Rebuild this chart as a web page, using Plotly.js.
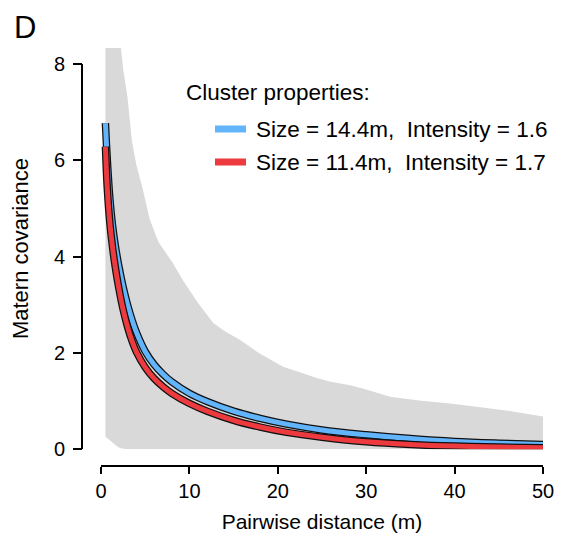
<!DOCTYPE html>
<html>
<head>
<meta charset="utf-8">
<script src="https://cdn.plot.ly/plotly-3.0.1.min.js"></script>
<style>
html,body{margin:0;padding:0;background:#fff;}
#chart{width:564px;height:537px;}
</style>
</head>
<body>
<div id="chart"></div>
<script>
// ---- data ----
const distX = [0.5, 0.7, 1, 1.3, 1.6, 2, 2.5, 3, 3.5, 4, 5, 6, 7, 8, 10, 12, 15, 18, 21, 25, 30, 35, 40, 45, 50];
const blueCov = [6.77, 6.05, 5.21, 4.65, 4.25, 3.82, 3.37, 3.0, 2.69, 2.43, 2.03, 1.76, 1.56, 1.4, 1.16, 0.99, 0.79, 0.64, 0.52, 0.4, 0.3, 0.22, 0.16, 0.125, 0.1];
const redCov  = [6.28, 5.45, 4.7, 4.2, 3.8, 3.36, 2.9, 2.54, 2.25, 2.02, 1.7, 1.47, 1.3, 1.16, 0.95, 0.79, 0.6, 0.46, 0.35, 0.25, 0.155, 0.1, 0.065, 0.045, 0.03];

const envX     = [0.5, 1, 1.5, 1.96, 2.26, 2.5, 3, 3.5, 4, 4.75, 5.5, 6.5, 8, 9.3, 11, 12.7, 14, 15.7, 18, 20.6, 22.5, 24.4, 26, 28.2, 30, 32.7, 36, 39.5, 42.5, 46, 50];
const envUpper = [20, 13, 10.5, 8.9, 8.33, 7.9, 7.3, 6.4, 5.9, 5.38, 4.78, 4.3, 3.9, 3.5, 3.03, 2.62, 2.45, 2.27, 1.98, 1.71, 1.6, 1.48, 1.4, 1.33, 1.24, 1.09, 1.01, 0.95, 0.88, 0.8, 0.68];
const envLower = [0.26, 0.18, 0.1, 0.04, 0.02, 0.01, 0, 0, 0, 0, 0, 0, 0, 0, 0, 0, 0, 0, 0, 0, 0, 0, 0, 0, 0, 0, 0, 0, 0, 0, 0];

const seriesNames = ['Size = 14.4m,\u00a0 Intensity = 1.6', 'Size = 11.4m,\u00a0 Intensity = 1.7'];
const seriesColors = ['#63b5fb', '#ec3a3f'];
const legendTitle = 'Cluster properties:';
const xTicks = [0, 10, 20, 30, 40, 50];
const yTicks = [0, 2, 4, 6, 8];
const panelLabel = 'D';
const xTitle = 'Pairwise distance (m)';
const yTitle = 'Matern covariance';

// ---- traces ----
const grey = '#d9d9d9';
const traces = [
  {x: envX, y: envLower, mode: 'lines', line: {width: 0, color: grey}, hoverinfo: 'skip', showlegend: false},
  {x: envX, y: envUpper, mode: 'lines', fill: 'tonexty', fillcolor: grey, line: {width: 0, color: grey}, hoverinfo: 'skip', showlegend: false}
];
const series = [blueCov, redCov];
series.forEach((ys, i) => {
  traces.push({x: distX, y: ys, mode: 'lines', line: {color: '#111', width: 7.5, shape: 'spline', smoothing: 1}, showlegend: false, hoverinfo: 'skip'});
  traces.push({x: distX, y: ys, mode: 'lines', name: seriesNames[i], line: {color: seriesColors[i], width: 5, shape: 'spline', smoothing: 1}, showlegend: false});
});

const font = 'Liberation Sans, Arial, Helvetica, sans-serif';

const shapes = [
  {type: 'line', xref: 'paper', yref: 'y', x0: 0, x1: 0, y0: 0, y1: 8, line: {color: '#000', width: 2}}
];
const annotations = [
  {xref: 'paper', yref: 'paper', x: -0.1236, y: 1.048, text: panelLabel, showarrow: false, xanchor: 'center', yanchor: 'middle', font: {family: font, size: 31, color: '#000'}},
  {xref: 'paper', yref: 'paper', x: (184 - 82) / 461, y: (466 - 92) / 418, text: legendTitle, showarrow: false, xanchor: 'left', yanchor: 'middle', font: {family: font, size: 22.5, color: '#000'}}
];
seriesNames.forEach((nm, i) => {
  const py = [129, 162][i];
  const yy = (466 - py) / 418;
  shapes.push({type: 'line', xref: 'paper', yref: 'paper', x0: (215 - 82) / 461, x1: (246 - 82) / 461, y0: yy, y1: yy, line: {color: seriesColors[i], width: 7}});
  annotations.push({xref: 'paper', yref: 'paper', x: (254 - 82) / 461, y: yy, text: nm, showarrow: false, xanchor: 'left', yanchor: 'middle', font: {family: font, size: 22.5, color: '#000'}});
});

const layout = {
  width: 564, height: 537,
  margin: {l: 82, r: 21, t: 48, b: 71},
  paper_bgcolor: '#fff', plot_bgcolor: '#fff',
  showlegend: false,
  font: {family: font, color: '#000'},
  xaxis: {
    domain: [19 / 461, 1], range: [0, 50], anchor: 'free', position: 0,
    showline: true, linecolor: '#000', linewidth: 2,
    ticks: 'outside', ticklen: 7, tickwidth: 2, tickcolor: '#000',
    tickvals: xTicks, ticktext: xTicks.map(String),
    tickfont: {size: 20, family: font}, ticklabelstandoff: 0,
    showgrid: false, zeroline: false,
    title: {text: xTitle, font: {size: 21, family: font}, standoff: 12}
  },
  yaxis: {
    domain: [16.8 / 418, 1], range: [0, 8.33], anchor: 'free', position: 0,
    showline: false,
    ticks: 'outside', ticklen: 9, tickwidth: 2, tickcolor: '#000',
    tickvals: yTicks, ticktext: yTicks.map(String),
    tickfont: {size: 20, family: font}, ticklabelstandoff: 4,
    showgrid: false, zeroline: false,
    title: {text: yTitle, font: {size: 22, family: font}, standoff: 18}
  },
  shapes: shapes,
  annotations: annotations
};

Plotly.newPlot('chart', traces, layout, {displayModeBar: false, staticPlot: true});
</script>
</body>
</html>
